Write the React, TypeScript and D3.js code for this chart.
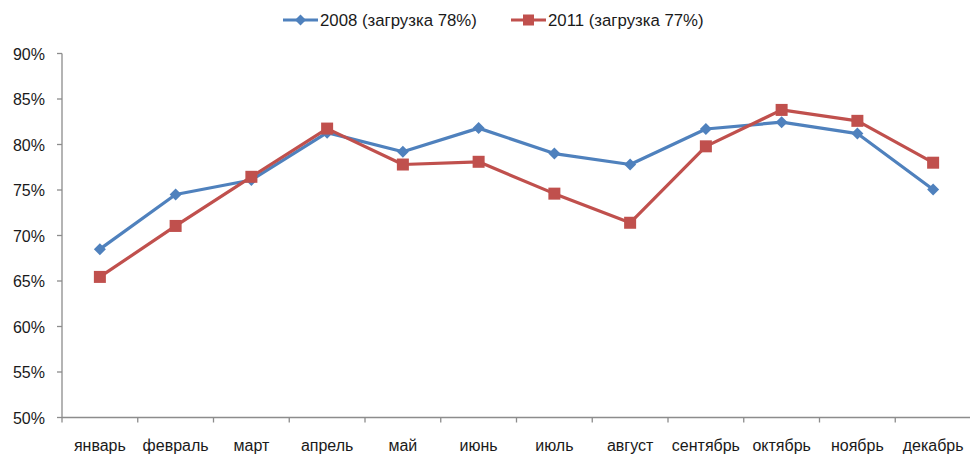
import React, { useRef, useEffect } from 'react';
import * as d3 from 'd3';

const months = ['январь', 'февраль', 'март', 'апрель', 'май', 'июнь', 'июль', 'август', 'сентябрь', 'октябрь', 'ноябрь', 'декабрь'];
const load2008 = [68.5, 74.5, 76.1, 81.3, 79.2, 81.8, 79.0, 77.8, 81.7, 82.45, 81.2, 75.05];
const load2011 = [65.45, 71.05, 76.45, 81.75, 77.8, 78.1, 74.6, 71.4, 79.8, 83.8, 82.6, 78.0];
const yTicks = [50, 55, 60, 65, 70, 75, 80, 85, 90];
const legendLabels = ['2008 (загрузка 78%)', '2011 (загрузка 77%)'];

export default function App() {
    const svgRef = useRef<SVGSVGElement | null>(null);

    useEffect(() => {
        const width = 970;
        const height = 455;
        const margin = { top: 53.5, right: -1, bottom: 37.5, left: 62 };
        const font = '"Liberation Sans", Arial, sans-serif';
        const axisColor = '#8c8c8c';
        const blue = '#4F81BD';
        const red = '#C0504D';

        d3.select(svgRef.current).selectAll('*').remove();

        const svg = d3
            .select(svgRef.current)
            .attr('width', width)
            .attr('height', height);

        const xScale = d3
            .scaleBand()
            .domain(months)
            .range([margin.left, width - margin.right]);

        const yScale = d3
            .scaleLinear()
            .domain([50, 90])
            .range([height - margin.bottom, margin.top]);

        const x0 = margin.left;
        const yBottom = height - margin.bottom;

        // y axis
        svg.append('line')
            .attr('x1', x0).attr('x2', x0)
            .attr('y1', yScale(90)).attr('y2', yBottom)
            .attr('stroke', axisColor).attr('stroke-width', 1.3);

        yTicks.forEach((t) => {
            svg.append('line')
                .attr('x1', x0 - 5).attr('x2', x0)
                .attr('y1', yScale(t)).attr('y2', yScale(t))
                .attr('stroke', axisColor).attr('stroke-width', 1.3);
            svg.append('text')
                .attr('x', 45)
                .attr('y', yScale(t) + 6)
                .attr('text-anchor', 'end')
                .attr('font-family', font)
                .attr('font-size', 16)
                .attr('fill', '#1a1a1a')
                .text(t + '%');
        });

        // x axis
        svg.append('line')
            .attr('x1', x0).attr('x2', width)
            .attr('y1', yBottom).attr('y2', yBottom)
            .attr('stroke', axisColor).attr('stroke-width', 1.3);

        months.forEach((m) => {
            const xs = xScale(m)!;
            svg.append('line')
                .attr('x1', xs).attr('x2', xs)
                .attr('y1', yBottom).attr('y2', yBottom + 5)
                .attr('stroke', axisColor).attr('stroke-width', 1.3);
            svg.append('text')
                .attr('x', xs + xScale.bandwidth() / 2)
                .attr('y', 451)
                .attr('text-anchor', 'middle')
                .attr('font-family', font)
                .attr('font-size', 16)
                .attr('fill', '#1a1a1a')
                .text(m);
        });

        const cx = (i: number) => xScale(months[i])! + xScale.bandwidth() / 2;

        const line = d3
            .line<number>()
            .x((_, i) => cx(i))
            .y((d) => yScale(d));

        const diamond = (x: number, y: number, r: number) =>
            `M${x},${y - r}L${x + r},${y}L${x},${y + r}L${x - r},${y}Z`;

        // 2008
        svg.append('path')
            .attr('d', line(load2008))
            .attr('fill', 'none')
            .attr('stroke', blue)
            .attr('stroke-width', 3.2)
            .attr('stroke-linejoin', 'round');

        load2008.forEach((v, i) => {
            svg.append('path')
                .attr('d', diamond(cx(i), yScale(v), 6))
                .attr('fill', blue);
        });

        // 2011
        svg.append('path')
            .attr('d', line(load2011))
            .attr('fill', 'none')
            .attr('stroke', red)
            .attr('stroke-width', 3.2)
            .attr('stroke-linejoin', 'round');

        load2011.forEach((v, i) => {
            svg.append('rect')
                .attr('x', cx(i) - 6)
                .attr('y', yScale(v) - 6)
                .attr('width', 12)
                .attr('height', 12)
                .attr('fill', red);
        });

        // legend
        const ly = 20;
        const legendX = [283, 511];
        legendLabels.forEach((label, k) => {
            const lx = legendX[k];
            const color = k === 0 ? blue : red;
            svg.append('line')
                .attr('x1', lx).attr('x2', lx + 35)
                .attr('y1', ly).attr('y2', ly)
                .attr('stroke', color).attr('stroke-width', 3);
            if (k === 0) {
                svg.append('path')
                    .attr('d', diamond(lx + 17.5, ly, 5.5))
                    .attr('fill', color);
            } else {
                svg.append('rect')
                    .attr('x', lx + 17.5 - 5.5).attr('y', ly - 5.5)
                    .attr('width', 11).attr('height', 11)
                    .attr('fill', color);
            }
            svg.append('text')
                .attr('x', lx + 37)
                .attr('y', ly + 6)
                .attr('font-family', font)
                .attr('font-size', 16.8)
                .attr('fill', '#1a1a1a')
                .text(label);
        });
    }, []);

    return (
        <svg
            ref={svgRef}
            style={{ position: 'absolute', left: 0, top: 0, display: 'block', background: '#fff' }}
        ></svg>
    );
}
